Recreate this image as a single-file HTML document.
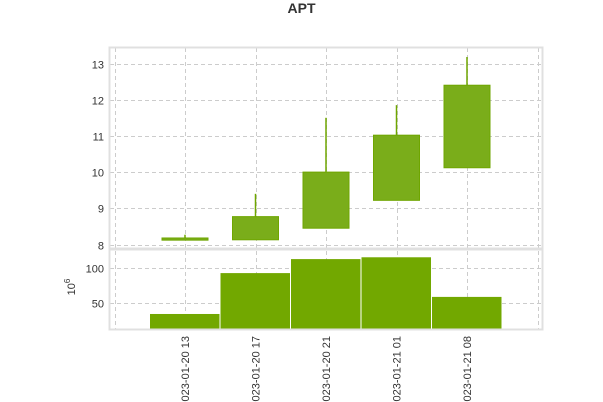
<!DOCTYPE html>
<html><head><meta charset="utf-8"><style>
body{margin:0;background:#fff;}
svg{display:block;font-family:"Liberation Sans",sans-serif;}
</style></head><body>
<svg id="c" width="603" height="402" viewBox="0 0 603 402">
<text x="301.5" y="13" text-anchor="middle" font-size="14" font-weight="bold" fill="#333">APT</text>
<g id="grid"></g>
<g id="marks"></g>
<rect x="109.5" y="47.5" width="433" height="201" fill="none" stroke="#e0e0e0" stroke-width="2"/>
<rect x="109.5" y="249.5" width="433" height="80" fill="none" stroke="#e0e0e0" stroke-width="2"/>
<text transform="translate(75,287) rotate(-90)" text-anchor="middle" font-size="11" fill="#333">10<tspan dy="-5" font-size="8">6</tspan></text>
<g id="labels"></g>
</svg>
<script>
const categories = ["2023-01-20 13","2023-01-20 17","2023-01-20 21","2023-01-21 01","2023-01-21 08"];
const opens  = [8.12, 8.13, 8.45, 9.22, 10.12];
const closes = [8.18, 8.77, 10.0, 11.02, 12.4];
const highs  = [8.27, 9.4, 11.5, 11.85, 13.18];
const lows   = [8.12, 8.13, 8.45, 9.22, 10.12];
const volumes = [33.6, 92, 112, 114.6, 58];
const priceTicks = [8,9,10,11,12,13];
const volTicks = [50,100];

const NS="http://www.w3.org/2000/svg";
function el(tag, attrs, parent){const e=document.createElementNS(NS,tag);for(const k in attrs)e.setAttribute(k,attrs[k]);parent.appendChild(e);return e;}
const xS = i => 185 + (i)*70.5;
const yP = v => 244.5 - (v-8)*36.2;
const yV = v => 302.5 - (v-50)*0.7;
const grid=document.getElementById('grid'), marks=document.getElementById('marks'), labels=document.getElementById('labels');
const gs={stroke:"#cccccc","stroke-width":1,"stroke-dasharray":"4,3"};
for(let i=-1;i<=categories.length;i++){
  const x=Math.round(xS(i))+0.5;
  const g=el('line',Object.assign({x1:x,x2:x,y1:48,y2:329},gs),grid);
  
  
}
priceTicks.forEach(t=>{
  const y=Math.round(yP(t))+0.5;
  const g=el('line',Object.assign({x1:110,x2:542,y1:y,y2:y},gs),grid);
  
  
  const tx=el('text',{x:104,y:y+4,"text-anchor":"end","font-size":11,fill:"#333"},labels);
  tx.textContent=t;
  
  
});
volTicks.forEach(t=>{
  const y=Math.round(yV(t))+0.5;
  const g=el('line',Object.assign({x1:110,x2:542,y1:y,y2:y},gs),grid);
  
  
  const tx=el('text',{x:104,y:y+4,"text-anchor":"end","font-size":11,fill:"#333"},labels);
  tx.textContent=t;
  
  
});
categories.forEach((c,i)=>{
  const x=xS(i);
  const w=el('line',{x1:x,x2:x,y1:yP(highs[i]),y2:yP(lows[i]),stroke:"#6fa600","stroke-width":1.5},marks);
  
  
  const top=yP(Math.max(opens[i],closes[i])), bot=yP(Math.min(opens[i],closes[i]));
  const b=el('rect',{x:x-23,y:top,width:46,height:Math.max(bot-top,2),fill:"#7aad1a",stroke:"#6fa600","stroke-width":1},marks);
  
  
  const v=el('rect',{x:x-35,y:yV(volumes[i]),width:69.5,height:330-yV(volumes[i]),fill:"#72a800"},marks);
  
  
  const tx=el('text',{transform:`translate(${x+4},336) rotate(-90)`,"text-anchor":"end","font-size":11,fill:"#333"},labels);
  tx.textContent=c;
  
  
});
</script>
</body></html>
